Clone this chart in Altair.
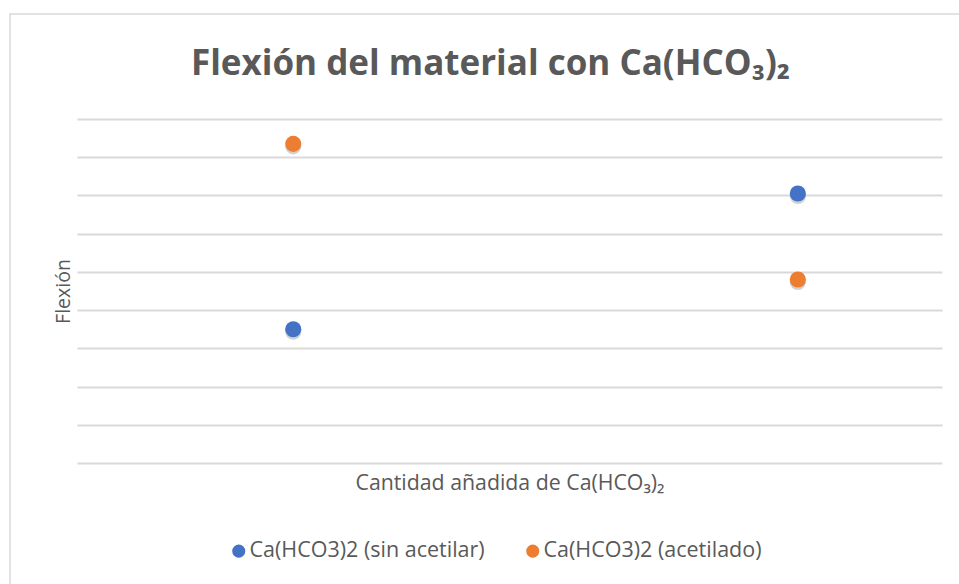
import altair as alt
import pandas as pd

# Data
series = ["Ca(HCO3)2 (sin acetilar)", "Ca(HCO3)2 (sin acetilar)",
          "Ca(HCO3)2 (acetilado)", "Ca(HCO3)2 (acetilado)"]
cantidad = [3, 10, 3, 10]
flexion = [3.5, 7.05, 8.35, 4.8]

series_order = ["Ca(HCO3)2 (sin acetilar)", "Ca(HCO3)2 (acetilado)"]
colors = ["#4472C4", "#ED7D31"]
grid_values = [0, 1, 2, 3, 4, 5, 6, 7, 8, 9]

df = pd.DataFrame({"serie": series, "cantidad": cantidad, "flexion": flexion})

FONT = "Open Sans"
GRAY = "#595959"

base = alt.Chart(df)

xenc = alt.X("cantidad:Q", scale=alt.Scale(domain=[0, 12], nice=False, zero=True),
             axis=alt.Axis(title="Cantidad añadida de Ca(HCO₃)₂", labels=False, ticks=False,
                           domain=False, grid=False, titleFont=FONT, titleFontSize=21.3,
                           titleFontWeight="normal", titleColor=GRAY, titlePadding=9))
yenc = alt.Y("flexion:Q", scale=alt.Scale(domain=[0, 9], nice=False),
             axis=alt.Axis(title="Flexión", labels=False, ticks=False, domain=False,
                           grid=True, gridColor="#d9d9d9", gridWidth=2,
                           values=grid_values, labelOverlap=False,
                           titleFont=FONT, titleFontSize=19.5, titleFontWeight="normal",
                           titleColor=GRAY, titlePadding=4))

shadow = base.mark_circle(size=260, color="#000000", opacity=0.18, yOffset=2.5).encode(
    x=xenc, y=yenc)

points = base.mark_circle(size=260, opacity=1).encode(
    x=xenc, y=yenc,
    color=alt.Color("serie:N", scale=alt.Scale(domain=series_order, range=colors),
                    legend=alt.Legend(title=None, orient="none", legendX=151, legendY=421,
                                      direction="horizontal", symbolType="circle",
                                      symbolSize=170, labelFont=FONT, labelFontSize=21.5,
                                      labelColor=GRAY, columnPadding=37, labelOffset=0,
                                      labelLimit=400)),
)

border = alt.Chart(pd.DataFrame({"k": [0]})).mark_rect(
    fill=None, stroke="#d9d9d9", strokeWidth=1.5).encode(
    x=alt.value(-67), x2=alt.value(900), y=alt.value(-105), y2=alt.value(500))

chart = alt.layer(border, shadow, points).properties(
    width=865, height=344,
    background="white",
    title=alt.Title("Flexión del material con Ca(HCO₃)₂", font=FONT, fontSize=35,
                    fontWeight="bold", color=GRAY, anchor="middle", dx=-19, offset=-69),
    padding={"left": 77, "top": 119, "right": 17, "bottom": 121},
    autosize=alt.AutoSizeParams(type="none"),
).configure_view(stroke=None)

chart.save("out.html", embed_options={"renderer": "svg", "actions": False})
